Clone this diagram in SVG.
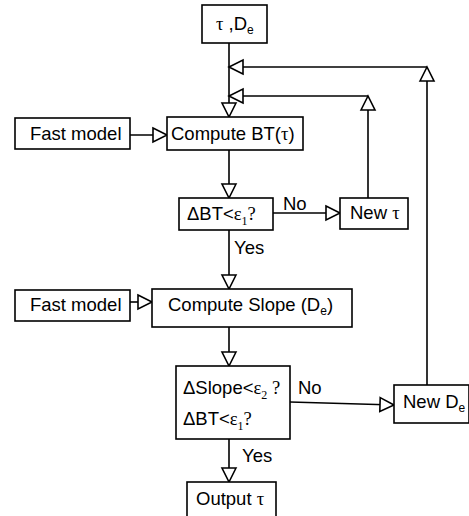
<svg xmlns="http://www.w3.org/2000/svg" width="469" height="516" viewBox="0 0 469 516">
<defs>
<marker id="ah" markerUnits="userSpaceOnUse" markerWidth="16" markerHeight="16" refX="14" refY="7" orient="auto" overflow="visible">
<path d="M0,0 L14,7 L0,14 Z" fill="#fff" stroke="#000" stroke-width="1.6"/>
</marker>
</defs>
<style>
rect{fill:#fff;stroke:#000;stroke-width:1.6}
text{font-family:"Liberation Sans",Arial,sans-serif;font-size:18.5px;fill:#000}
.s{font-family:"Liberation Serif","Times New Roman",serif}
.sub{font-size:12px}
.c{fill:none;stroke:#000;stroke-width:1.6}
</style>
<rect width="469" height="516" style="fill:#fff;stroke:none"/>
<g id="connectors">
<path class="c" d="M229,43 V117" marker-end="url(#ah)"/>
<path class="c" d="M130,135 H167" marker-end="url(#ah)"/>
<path class="c" d="M229,150 V198" marker-end="url(#ah)"/>
<path class="c" d="M273,213 H340" marker-end="url(#ah)"/>
<path class="c" d="M368,198 V96" marker-end="url(#ah)"/>
<path class="c" d="M368,96 H229" marker-end="url(#ah)"/>
<path class="c" d="M229,230 V289" marker-end="url(#ah)"/>
<path class="c" d="M130,302 H152" marker-end="url(#ah)"/>
<path class="c" d="M229,327 V366" marker-end="url(#ah)"/>
<path class="c" d="M290,402 L394,405" marker-end="url(#ah)"/>
<path class="c" d="M427,385 V67" marker-end="url(#ah)"/>
<path class="c" d="M427,67 H229" marker-end="url(#ah)"/>
<path class="c" d="M229,439 V482" marker-end="url(#ah)"/>
</g>
<g id="start">
<rect x="202" y="5" width="65" height="38"/>
<text x="216" y="30"><tspan class="s">τ</tspan> ,D<tspan class="sub" dy="4">e</tspan></text>
</g>
<g id="fast1">
<rect x="15" y="118" width="115" height="31"/>
<text x="30" y="140">Fast model</text>
</g>
<g id="computeBT">
<rect x="167" y="117" width="136" height="33"/>
<text x="171" y="140">Compute BT(<tspan class="s">τ</tspan>)</text>
</g>
<g id="check1">
<rect x="179" y="198" width="94" height="32"/>
<text x="187" y="220">ΔBT&lt;<tspan class="s">ε<tspan class="sub" dy="5">1</tspan><tspan dy="-5">?</tspan></tspan></text>
</g>
<g id="newTau">
<rect x="340" y="198" width="68" height="31"/>
<text x="350" y="219">New <tspan class="s">τ</tspan></text>
</g>
<g id="fast2">
<rect x="15" y="290" width="115" height="31"/>
<text x="30" y="311">Fast model</text>
</g>
<g id="computeSlope">
<rect x="152" y="289" width="200" height="38"/>
<text x="168" y="311">Compute Slope (D<tspan class="sub" dy="4">e</tspan><tspan dy="-4">)</tspan></text>
</g>
<g id="check2">
<rect x="176" y="366" width="114" height="73"/>
<text x="183" y="394">ΔSlope&lt;<tspan class="s">ε<tspan class="sub" dy="5">2</tspan><tspan dy="-5"> ?</tspan></tspan></text>
<text x="183" y="425">ΔBT&lt;<tspan class="s">ε<tspan class="sub" dy="5">1</tspan><tspan dy="-5">?</tspan></tspan></text>
</g>
<g id="newDe">
<rect x="394" y="385" width="75" height="38"/>
<text x="403" y="408">New D<tspan class="sub" dy="4">e</tspan></text>
</g>
<g id="output">
<rect x="187" y="482" width="89" height="40"/>
<text x="196" y="505">Output <tspan class="s">τ</tspan></text>
</g>
<g id="labels">
<text x="283" y="210">No</text>
<text x="234" y="254">Yes</text>
<text x="298" y="394">No</text>
<text x="242" y="462">Yes</text>
</g>
</svg>
